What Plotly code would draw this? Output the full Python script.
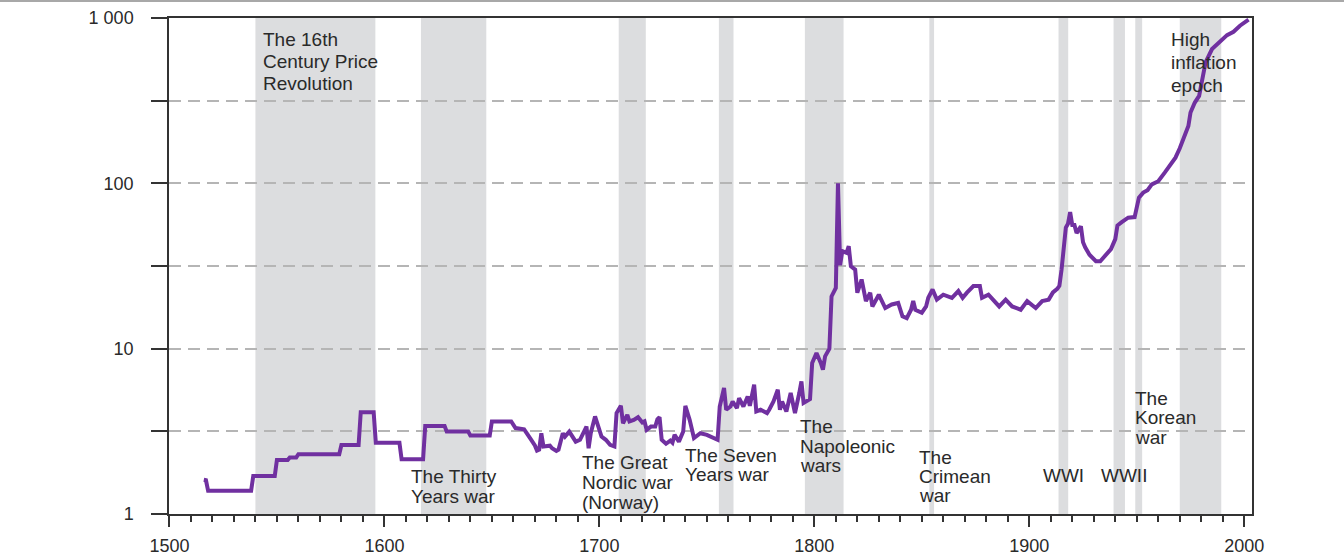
import plotly.graph_objects as go

# ---------------- data ----------------
years = [1516, 1517, 1518, 1538, 1539, 1549, 1550, 1555, 1556, 1559, 1560, 1579, 1580, 1588, 1589,
         1595, 1596, 1607, 1608, 1618, 1619, 1628, 1629, 1639, 1640, 1649, 1650, 1659, 1661, 1665,
         1668, 1670, 1671, 1672, 1673, 1674, 1677, 1678, 1680, 1681, 1683, 1684, 1686, 1689, 1691,
         1694, 1695, 1696, 1698, 1701, 1703, 1705, 1707, 1708, 1710, 1711, 1713, 1714, 1716, 1718,
         1720, 1721, 1722, 1724, 1726, 1727, 1728, 1729, 1731, 1733, 1734, 1735, 1737, 1739, 1740,
         1742, 1744, 1747, 1750, 1753, 1755, 1756, 1758, 1759, 1761, 1762, 1764, 1765, 1767, 1769,
         1770, 1772, 1773, 1775, 1778, 1779, 1781, 1783, 1784, 1785, 1787, 1789, 1791, 1793, 1794,
         1795, 1798, 1799, 1801, 1803, 1804, 1805, 1806, 1807, 1808, 1809, 1810, 1811, 1812, 1813,
         1815, 1816, 1817, 1819, 1820, 1822, 1824, 1826, 1827, 1830, 1833, 1836, 1839, 1841, 1843,
         1845, 1846, 1847, 1850, 1852, 1853, 1855, 1857, 1860, 1864, 1867, 1869, 1871, 1874, 1877,
         1878, 1881, 1886, 1889, 1892, 1896, 1899, 1903, 1906, 1909, 1911, 1913, 1914, 1915, 1916,
         1917, 1918, 1919, 1920, 1921, 1922, 1924, 1925, 1926, 1928, 1931, 1933, 1936, 1938, 1940,
         1941, 1943, 1946, 1949, 1950, 1951, 1953, 1955, 1957, 1959, 1960, 1963, 1966, 1968, 1970,
         1972, 1974, 1975, 1977, 1979, 1981, 1982, 1985, 1989, 1992, 1995, 1998, 2002]
cpi = [1.61, 1.60, 1.38, 1.38, 1.70, 1.70, 2.12, 2.12, 2.20, 2.20, 2.30, 2.30, 2.61, 2.61, 4.13,
       4.13, 2.70, 2.70, 2.14, 2.14, 3.41, 3.41, 3.15, 3.15, 2.98, 2.98, 3.63, 3.63, 3.31, 3.25,
       2.85, 2.60, 2.42, 2.45, 3.08, 2.56, 2.59, 2.50, 2.41, 2.45, 3.08, 2.94, 3.15, 2.74, 2.81,
       3.38, 2.50, 3.08, 3.89, 2.94, 2.81, 2.62, 2.56, 4.08, 4.51, 3.54, 3.98, 3.63, 3.71, 3.85,
       3.58, 3.63, 3.23, 3.38, 3.38, 3.74, 3.85, 2.81, 2.66, 2.78, 2.70, 3.01, 2.74, 3.15, 4.51,
       3.71, 2.88, 3.08, 3.01, 2.88, 2.81, 4.47, 5.78, 4.27, 4.47, 4.79, 4.37, 5.02, 4.47, 5.14,
       4.51, 6.05, 4.17, 4.27, 4.08, 4.27, 4.79, 5.64, 4.27, 4.79, 4.17, 5.39, 4.08, 5.39, 6.34,
       4.69, 4.95, 8.19, 9.42, 8.19, 7.46, 8.98, 9.42, 10.0, 20.7, 22.0, 23.3, 100.0, 32.0, 38.9,
       38.0, 41.7, 31.5, 30.1, 21.8, 26.2, 19.4, 21.8, 18.0, 21.2, 17.6, 18.5, 18.9, 15.7, 15.3,
       17.2, 19.4, 17.2, 16.5, 18.0, 20.3, 22.8, 19.8, 21.2, 20.3, 22.3, 20.3, 21.8, 23.9, 23.9,
       20.3, 21.2, 18.0, 19.8, 18.0, 17.2, 19.4, 17.6, 19.4, 19.8, 21.9, 23.0, 24.0, 30.0, 40.0,
       54.0, 57.0, 67.0, 56.0, 56.0, 50.0, 55.0, 44.0, 41.0, 37.0, 33.8, 33.8, 37.0, 40.0, 46.0,
       55.6, 58.3, 62.0, 62.5, 74.6, 82.0, 87.9, 91.0, 98.6, 101.0, 103.0, 116.0, 131.0, 143.0, 163.0,
       194.0, 222.0, 268.0, 308.0, 338.0, 458.0, 539.0, 649.0, 729.0, 788.0, 826.0, 898.0, 977.0]

period_start = [1540, 1617, 1709, 1755.6, 1795.6, 1853.5, 1913.6, 1939.2, 1949.3, 1970.0]
period_end = [1595.8, 1647.4, 1721.6, 1762.4, 1813.6, 1855.7, 1918.1, 1944.5, 1952.5, 1989.3]

label_texts = ["The 16th<br>Century Price<br>Revolution",
               "The Thirty<br>Years war",
               "The Great<br>Nordic war<br>(Norway)",
               "The Seven<br>Years war",
               "The<br>Napoleonic<br>wars",
               "The<br>Crimean<br>war",
               "WWI",
               "WWII",
               "The<br>Korean<br>war",
               "High<br>inflation<br>epoch"]

y_tickvals = [1, 3.1623, 10, 31.623, 100, 316.23, 1000]
y_ticktext = ["1", "", "10", "", "100", "", "1 000"]
x_tickvals = [1500, 1600, 1700, 1800, 1900, 2000]

# ---------------- layout helpers ----------------
W, H = 1344, 556
ML, MR, MT, MB = 169, 92, 18, 42
PH = H - MT - MB
FONT = "Liberation Sans, Arial, Helvetica, sans-serif"
TXT = "#2a2a2a"


def py_to_paper(py):
    return (H - MB - py) / PH


# label placement (left x in years, first-line centre pixel y, line spacing px)
label_pos = [(1542.7, 39.3, 22.2), (1611.6, 476.8, 19.4), (1690.8, 462.0, 20.3),
             (1738.9, 455.0, 19.3), (1792.2, 426.7, 19.3), (1847.6, 457.3, 19.3),
             (1905.6, 475.0, 0), (1932.2, 475.0, 0), (1948.1, 398.3, 19.5),
             (1965.2, 40.0, 22.5)]

fig = go.Figure()

shapes = []
for s, e in zip(period_start, period_end):
    shapes.append(dict(type="rect", xref="x", yref="paper", x0=s, x1=e, y0=0, y1=1,
                       fillcolor="#DCDDDF", line=dict(width=0), layer="below"))
# thin grey rule at very top of the figure
shapes.append(dict(type="line", xref="paper", yref="paper", x0=-ML / (W - ML - MR),
                   x1=(W - ML) / (W - ML - MR), y0=py_to_paper(1), y1=py_to_paper(1),
                   line=dict(color="#A8A8A8", width=2), layer="above"))

fig.add_trace(go.Scatter(x=years, y=cpi, mode="lines",
                         line=dict(color="#7030A0", width=4), hoverinfo="skip",
                         showlegend=False))

annotations = []
for txt, (lx, py0, sp) in zip(label_texts, label_pos):
    for i, line in enumerate(txt.split("<br>")):
        annotations.append(dict(x=lx, xref="x", y=py_to_paper(py0 + i * sp), yref="paper",
                                text=line, showarrow=False, xanchor="left", yanchor="middle",
                                font=dict(family=FONT, size=19, color=TXT)))

fig.update_layout(
    width=W, height=H, autosize=False,
    margin=dict(l=ML, r=MR, t=MT, b=MB, pad=0, autoexpand=False),
    paper_bgcolor="white", plot_bgcolor="white",
    shapes=shapes, annotations=annotations,
    xaxis=dict(range=[1499.8, 2003.6], tickvals=x_tickvals, ticks="outside", ticklen=11,
               tickwidth=1.5, tickcolor="#333333", showline=True, linecolor="#333333",
               linewidth=1.5, mirror=True, showgrid=False, zeroline=False, automargin=False,
               ticklabelstandoff=4,
               tickfont=dict(family=FONT, size=18, color=TXT),
               minor=dict(dtick=10, ticks="outside", ticklen=6, tickwidth=1.5,
                          tickcolor="#333333", showgrid=False)),
    yaxis=dict(type="log", range=[0, 3], tickvals=y_tickvals, ticktext=y_ticktext,
               ticks="outside", ticklen=16, tickwidth=1.5, tickcolor="#333333",
               showline=True, linecolor="#333333", linewidth=1.5, mirror=True,
               showgrid=True, gridcolor="#B5B5B5", gridwidth=1.5, griddash="12px,7px",
               zeroline=False, automargin=False, ticklabelstandoff=14,
               tickfont=dict(family=FONT, size=18, color=TXT)),
)

fig.write_html("out.html", config={"displayModeBar": False},
               post_script="document.body.style.margin='0';document.body.style.overflow='hidden';")
